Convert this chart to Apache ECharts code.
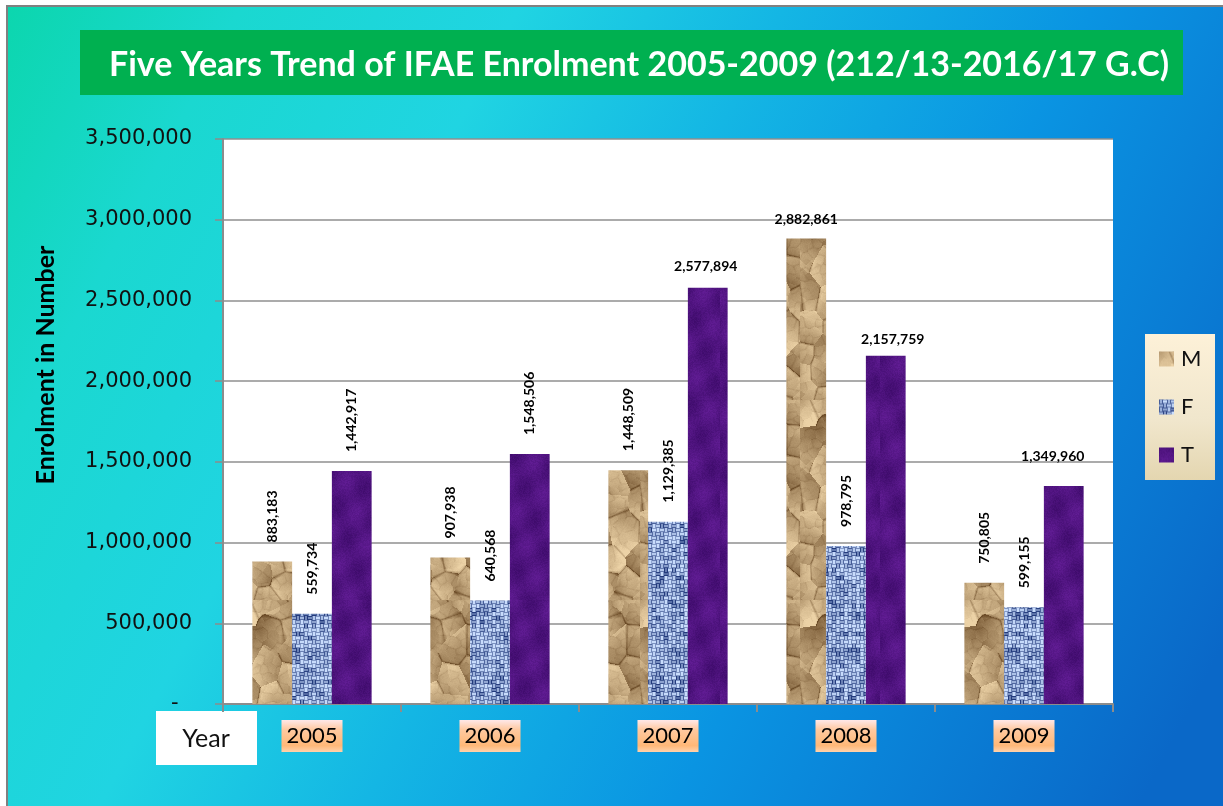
<!DOCTYPE html>
<html>
<head>
<meta charset="utf-8">
<title>Five Years Trend of IFAE Enrolment</title>
<script src="https://cdn.jsdelivr.net/npm/echarts@6/dist/echarts.min.js"></script>
<style>
  html, body { margin: 0; padding: 0; background: #fff; }
  #chart { width: 1223px; height: 806px; }
</style>
</head>
<body>
<div id="chart"></div>
<script>
// data
const years = ['2005', '2006', '2007', '2008', '2009'];
const maleValues = [883183, 907938, 1448509, 2882861, 750805];
const femaleValues = [559734, 640568, 1129385, 978795, 599155];
const totalValues = [1442917, 1548506, 2577894, 2157759, 1349960];
const seriesNames = ['M', 'F', 'T'];
const titleText = 'Five Years Trend of IFAE Enrolment 2005-2009 (212/13-2016/17 G.C)';
const yAxisTitle = 'Enrolment in Number';
const xAxisTitle = 'Year';
const yMin = 0, yMax = 3500000, yStep = 500000;

// labels that sit flat (not rotated) over their bar: index -> [distance, dx]
const flatLabels = {
  M: { 3: [12, 0] },
  F: {},
  T: { 2: [14, -2], 3: [9, 7], 4: [23, -11] }
};

const fmt = v => Number(v).toLocaleString('en-US');

// bar textures (drawn on small canvases, no data in them)
function hash(x, y) {
  const s = Math.sin(x * 12.9898 + y * 78.233) * 43758.5453;
  return s - Math.floor(s);
}
function lerp(a, b, t) {
  return [0, 1, 2].map(i => Math.round(a[i] + (b[i] - a[i]) * t));
}
function clamp(t) { return Math.max(0, Math.min(1, t)); }

function paperShade(x, y, cell) {
  // crumpled look: jittered cells, each facet its own slope, dark creases at some edges
  const gx = Math.floor(x / cell), gy = Math.floor(y / cell);
  let d1 = 1e9, d2 = 1e9, best = null, second = null;
  for (let j = -1; j <= 1; j++) {
    for (let i = -1; i <= 1; i++) {
      const cx = gx + i, cy = gy + j;
      const px = (cx + hash(cx, cy)) * cell;
      const py = (cy + hash(cy + 7, cx + 3)) * cell;
      const d = Math.hypot(x - px, y - py);
      if (d < d1) { d2 = d1; second = best; d1 = d; best = [cx, cy, px, py]; }
      else if (d < d2) { d2 = d; second = [cx, cy, px, py]; }
    }
  }
  const a = hash(best[0] + 11, best[1] - 5) * Math.PI * 2;
  const slope = ((x - best[2]) * Math.cos(a) + (y - best[3]) * Math.sin(a)) / cell;
  let t = 0.64 + (hash(best[0], best[1] + 19) - 0.5) * 0.3 + slope * 0.45;
  const edge = d2 - d1;
  const crease = hash(best[0] + second[0], best[1] + second[1]);
  if (crease > 0.45 && edge < 2.5) t -= (2.5 - edge) * 0.18;
  return t;
}

function makeTexture(kind) {
  const w = 80, h = 200;
  const c = document.createElement('canvas');
  c.width = w; c.height = h;
  const ctx = c.getContext('2d');
  const img = ctx.createImageData(w, h);
  for (let y = 0; y < h; y++) {
    for (let x = 0; x < w; x++) {
      let col;
      if (kind === 'paper') {
        let t = paperShade(x, y * 0.8, 22) * 0.8 + paperShade(x + 5, y + 9, 9) * 0.2;
        t += (hash(x, y) - 0.5) * 0.05;
        col = lerp([108, 76, 40], [236, 210, 166], clamp(t));
      } else if (kind === 'weave') {
        const cx = Math.floor(x / 4), cy = Math.floor(y / 4);
        const up = (cx + cy) % 2 === 0;
        const px = x % 4, py = y % 4;
        let t = up ? (px === 1 || px === 2 ? 0.95 : 0.45) : (py === 1 || py === 2 ? 0.85 : 0.4);
        t += (hash(cx, cy) - 0.5) * 0.45;
        if (hash(cx + 3, cy * 2) > 0.8) t -= 0.35;
        col = lerp([34, 58, 124], [200, 220, 252], clamp(t));
      } else {
        let t = 0.5 + 0.25 * Math.sin(x * 0.15 + y * 0.05) * Math.sin(y * 0.11 - x * 0.04)
          + (hash(x, y) - 0.5) * 0.25;
        col = lerp([56, 8, 100], [104, 32, 156], clamp(t));
      }
      const k = (y * w + x) * 4;
      img.data[k] = col[0]; img.data[k + 1] = col[1]; img.data[k + 2] = col[2]; img.data[k + 3] = 255;
    }
  }
  ctx.putImageData(img, 0, 0);
  return c;
}

const textures = {
  M: { image: makeTexture('paper'), repeat: 'repeat' },
  F: { image: makeTexture('weave'), repeat: 'repeat' },
  T: { image: makeTexture('velvet'), repeat: 'repeat' }
};

function buildData(name, values) {
  return values.map(function (v, i) {
    const flat = flatLabels[name][i];
    if (!flat) return v;
    return {
      value: v,
      label: {
        rotate: 0,
        align: 'center',
        verticalAlign: 'bottom',
        distance: flat[0],
        offset: [flat[1], 0]
      }
    };
  });
}

function makeSeries(name, values) {
  return {
    name: name,
    type: 'bar',
    data: buildData(name, values),
    barGap: '0%',
    barCategoryGap: '33%',
    itemStyle: { color: textures[name] },
    label: {
      show: true,
      position: 'top',
      rotate: 90,
      align: 'left',
      verticalAlign: 'middle',
      distance: 19,
      formatter: p => fmt(p.value),
      fontFamily: 'Lato',
      fontWeight: 'bold',
      fontSize: 14,
      color: '#000'
    },
    emphasis: { disabled: true }
  };
}

const bgGradient = new echarts.graphic.LinearGradient(0, 0, 1, 0.8, [
  { offset: 0, color: '#0CD6AE' },
  { offset: 0.15, color: '#1AD8D0' },
  { offset: 0.33, color: '#20D4E2' },
  { offset: 0.5, color: '#14B6E4' },
  { offset: 0.7, color: '#0A94E2' },
  { offset: 1, color: '#0A68C8' }
]);
const legendGradient = new echarts.graphic.LinearGradient(0, 0, 0, 1, [
  { offset: 0, color: '#FDF1D8' },
  { offset: 0.6, color: '#F0E6CC' },
  { offset: 1, color: '#E4D6B0' }
]);
const yearGradient = new echarts.graphic.LinearGradient(0, 0, 0, 1, [
  { offset: 0, color: '#FFE8E8' },
  { offset: 0.3, color: '#FFC9A0' },
  { offset: 0.8, color: '#FFB878' },
  { offset: 1, color: '#FFD2AC' }
]);

const chart = echarts.init(document.getElementById('chart'));
const option = {
  backgroundColor: '#ffffff',
  animation: false,
  title: {
    text: titleText,
    left: 634,
    top: 43,
    textAlign: 'center',
    textStyle: {
      color: '#ffffff',
      fontFamily: 'Lato',
      fontWeight: 'bold',
      fontSize: 34
    }
  },
  graphic: [
    { type: 'rect', z: -10, shape: { x: 6, y: 5, width: 1217, height: 801 }, style: { fill: '#808080' } },
    { type: 'rect', z: -9, shape: { x: 8, y: 7, width: 1215, height: 799 }, style: { fill: bgGradient } },
    { type: 'rect', z: -8, shape: { x: 80, y: 30, width: 1103, height: 65 }, style: { fill: '#00B050' } },
    { type: 'rect', z: -8, shape: { x: 1145, y: 334, width: 70, height: 146 }, style: { fill: legendGradient } },
    { type: 'rect', z: -8, shape: { x: 156, y: 711, width: 101, height: 54 }, style: { fill: '#ffffff' } },
    {
      type: 'text', x: 206, y: 739,
      style: { text: xAxisTitle, font: '25px Lato', fill: '#111', align: 'center', verticalAlign: 'middle' }
    },
    {
      type: 'text', x: 46, y: 365, rotation: Math.PI / 2,
      style: { text: yAxisTitle, font: 'bold 25px Lato', fill: '#000', align: 'center', verticalAlign: 'middle' }
    }
  ],
  legend: {
    data: seriesNames,
    orient: 'vertical',
    left: 1159,
    top: 347,
    padding: 0,
    itemWidth: 15,
    itemHeight: 15,
    itemGap: 24,
    icon: 'rect',
    selectedMode: false,
    textStyle: { fontFamily: 'Lato', fontSize: 22, lineHeight: 24, color: '#111', padding: [0, 0, 0, 2] }
  },
  grid: {
    left: 223,
    right: 110,
    top: 139,
    bottom: 102,
    show: true,
    backgroundColor: '#ffffff',
    borderWidth: 0
  },
  xAxis: {
    type: 'category',
    data: years,
    axisLine: { lineStyle: { color: '#8C8C8C', width: 2 } },
    axisTick: { show: true, length: 8, lineStyle: { color: '#8C8C8C', width: 2 } },
    axisLabel: {
      margin: 16,
      fontFamily: 'Lato',
      fontSize: 22,
      lineHeight: 24,
      color: '#000',
      backgroundColor: yearGradient,
      padding: [4, 5, 4, 5]
    }
  },
  yAxis: {
    type: 'value',
    min: yMin,
    max: yMax,
    interval: yStep,
    axisLine: { show: true, lineStyle: { color: '#8C8C8C', width: 2 } },
    axisTick: { show: true, length: 8, lineStyle: { color: '#8C8C8C', width: 1.5 } },
    splitLine: { lineStyle: { color: '#8F8F8F', width: 1.5 } },
    axisLabel: {
      margin: 31,
      fontFamily: '"DejaVu Sans"',
      fontSize: 21,
      color: '#111',
      formatter: v => (v === 0 ? '-  ' : fmt(v))
    }
  },
  series: [
    makeSeries('M', maleValues),
    makeSeries('F', femaleValues),
    makeSeries('T', totalValues)
  ]
};
chart.setOption(option);
</script>
</body>
</html>
